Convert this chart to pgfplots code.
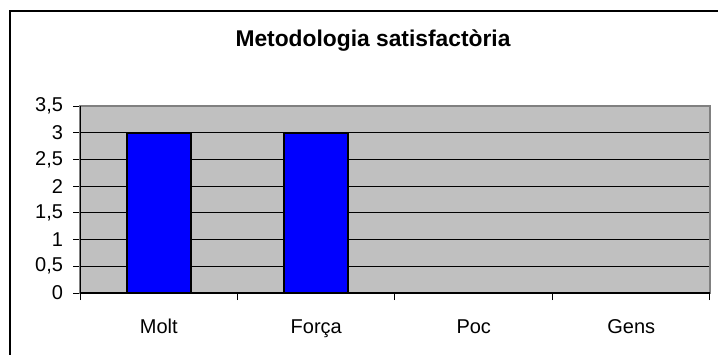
\documentclass[border=0pt]{standalone}
\usepackage{pgfplots}
\pgfplotsset{compat=1.18}
\usepackage{fontspec}
\setmainfont{Liberation Sans}
\definecolor{plotgray}{HTML}{C0C0C0}
\definecolor{barblue}{HTML}{0000FF}
\begin{document}
\begin{tikzpicture}
\useasboundingbox (0pt,0pt) rectangle (359pt,-177pt);
\draw[black, line width=0.6pt] (5pt,-180pt) -- (5pt,-5.5pt) -- (365pt,-5.5pt);
\node[font=\bfseries\fontsize{11.4pt}{13pt}\selectfont] at (186.5pt,-20.5pt) {Metodologia satisfactòria};
\begin{axis}[
  at={(40pt,-146.5pt)}, anchor=south west,
  scale only axis, width=315pt, height=93.5pt,
  xmin=-0.5, xmax=3.5, ymin=0, ymax=3.5,
  ytick={0,0.5,...,3.5},
  xtick={0,1,2,3},
  xticklabels={Molt,Força,Poc,Gens},
  minor xtick={-0.5,0.5,1.5,2.5,3.5},
  major x tick style={draw=none},
  xtick pos=bottom, ytick pos=left,
  tick align=outside,
  major tick length=3.5pt, minor tick length=3.5pt,
  tick style={black, line width=0.5pt},
  ymajorgrids, grid style={black, line width=0.5pt},
  axis background/.style={fill=plotgray},
  axis line style={draw=black!50, line width=0.6pt},
  /pgf/number format/.cd, use comma, assume math mode=true,
  /pgfplots/.cd,
  yticklabel style={font=\fontsize{10pt}{11pt}\selectfont, xshift=-1.5pt},
  xticklabel style={font=\fontsize{10pt}{11pt}\selectfont, anchor=base, text height=7.2pt, text depth=2pt, yshift=-16.5pt},
  ybar, bar width=32pt,
]
\addplot[fill=barblue, draw=black, line width=1.1pt] coordinates {(0,3) (1,3) (2,0) (3,0)};
\draw[black, line width=0.6pt] (rel axis cs:0,1) -- (rel axis cs:0,0) -- (rel axis cs:1,0);
\end{axis}
\end{tikzpicture}
\end{document}
